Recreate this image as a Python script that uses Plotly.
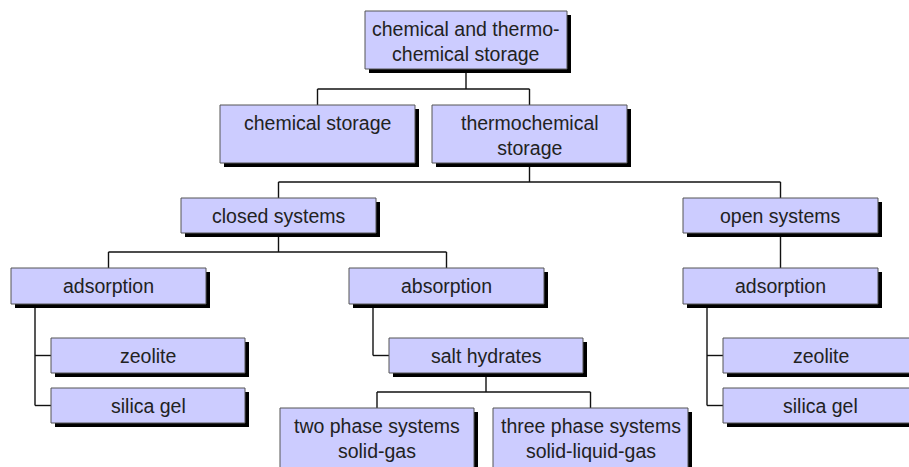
import plotly.graph_objects as go

# tree content: node labels and parent index of each node
labels = [
    "chemical and thermo-<br>chemical storage",
    "chemical storage",
    "thermochemical<br>storage",
    "closed systems",
    "open systems",
    "adsorption",
    "absorption",
    "zeolite",
    "silica gel",
    "salt hydrates",
    "two phase systems<br>solid-gas",
    "three phase systems<br>solid-liquid-gas",
    "adsorption",
    "zeolite",
    "silica gel",
]
parents = [None, 0, 0, 2, 2, 3, 3, 5, 5, 6, 9, 9, 4, 12, 12]

# layout of the boxes (left, top, width, height) in page units
BOXES = [
    (365, 11, 202, 58),
    (220, 105, 195, 58),
    (432, 105, 195, 58),
    (181, 198, 195, 35),
    (683, 198, 195, 35),
    (11, 268, 195, 36),
    (349, 268, 195, 36),
    (51, 338, 194, 35),
    (51, 388, 194, 35),
    (389, 338, 194, 35),
    (280, 408, 194, 62),
    (493, 408, 195, 62),
    (683, 268, 195, 36),
    (723, 338, 195, 35),
    (723, 388, 195, 35),
]
SIDE_STYLE = {5, 6, 12}   # children hang off a vertical line on the left
SIDE_OFFSET = 24
BUS_DROP = 16

COLORS = {
    'Fill': '#CCCCFF',
    'Border': '#555555',
    'Shadow': '#000000',
    'Line': '#111111',
    'Text': '#222222',
}


def center_x(i):
    x, y, w, h = BOXES[i]
    return x + w / 2


def connectors():
    xs, ys = [], []
    for p in range(len(labels)):
        kids = [i for i, q in enumerate(parents) if q == p]
        if not kids:
            continue
        px_, py_, pw, ph = BOXES[p]
        bottom = py_ + ph
        if p in SIDE_STYLE:
            lx = px_ + SIDE_OFFSET
            mids = [BOXES[k][1] + BOXES[k][3] / 2 for k in kids]
            xs += [lx, lx, None]
            ys += [bottom, max(mids), None]
            for k, m in zip(kids, mids):
                xs += [lx, BOXES[k][0], None]
                ys += [m, m, None]
        elif len(kids) == 1:
            xs += [center_x(p), center_x(kids[0]), None]
            ys += [bottom, BOXES[kids[0]][1], None]
        else:
            top = min(BOXES[k][1] for k in kids)
            bus = top - BUS_DROP
            xs += [center_x(p), center_x(p), None]
            ys += [bottom, bus, None]
            cx = [center_x(k) for k in kids]
            xs += [min(cx), max(cx), None]
            ys += [bus, bus, None]
            for k in kids:
                xs += [center_x(k), center_x(k), None]
                ys += [bus, BOXES[k][1], None]
    return xs, ys


fig = go.Figure()

lx, ly = connectors()
fig.add_trace(go.Scatter(
    x=lx, y=ly, mode='lines',
    line=dict(color=COLORS['Line'], width=1.4),
    hoverinfo='skip', showlegend=False
))

for i, (x, y, w, h) in enumerate(BOXES):
    # drop shadow
    fig.add_shape(type='rect', x0=x + 4, y0=y + 4, x1=x + w + 4, y1=y + h + 4,
                  fillcolor=COLORS['Shadow'], line=dict(width=0))
    fig.add_shape(type='rect', x0=x, y0=y, x1=x + w, y1=y + h,
                  fillcolor=COLORS['Fill'], line=dict(color=COLORS['Border'], width=1))
    fig.add_annotation(
        x=x + w / 2, y=y + 5, text=labels[i],
        xanchor='center', yanchor='top', showarrow=False,
        font=dict(size=19.5, color=COLORS['Text'], family="Liberation Sans, Arial, sans-serif")
    )

fig.update_layout(
    width=909, height=467,
    margin=dict(l=0, r=0, t=0, b=0),
    plot_bgcolor='white', paper_bgcolor='white',
    xaxis=dict(range=[0, 909], visible=False, fixedrange=True),
    yaxis=dict(range=[467, 0], visible=False, fixedrange=True),
)

# drop the browser's default page margin so the figure sits at the window edge
fig.write_html("out.html", config={'displayModeBar': False},
               post_script="document.body.style.margin='0';")
